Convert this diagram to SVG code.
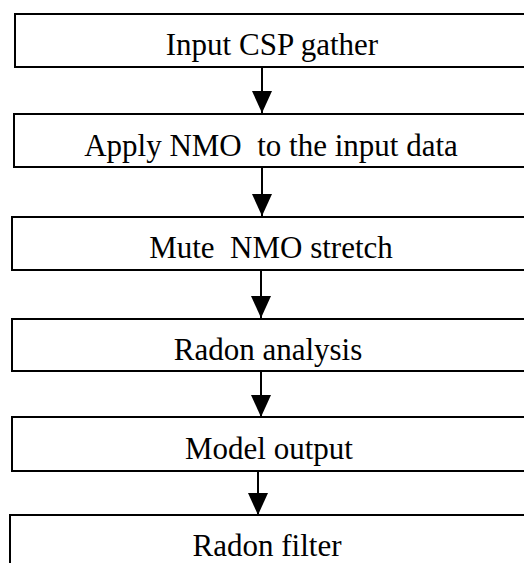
<svg xmlns="http://www.w3.org/2000/svg" width="524" height="563" viewBox="0 0 524 563">
<style>
.box{fill:#fff;stroke:#000;stroke-width:2}
.lbl{font-family:"Liberation Serif","Times New Roman",serif;font-size:31px;fill:#000;text-anchor:middle}
.con{stroke:#000;stroke-width:2;fill:none}
</style>
<defs>
<marker id="ah" markerUnits="userSpaceOnUse" viewBox="0 0 22 20" refX="22" refY="10" markerWidth="22" markerHeight="20" orient="auto">
<path d="M0,0 L22,10 L0,20 Z" fill="#000"/>
</marker>
</defs>
<rect width="524" height="563" fill="#fff"/>
<g id="connectors">
<line class="con" x1="262" y1="67" x2="262" y2="113" marker-end="url(#ah)"/>
<line class="con" x1="262" y1="167" x2="262" y2="216" marker-end="url(#ah)"/>
<line class="con" x1="261" y1="270" x2="261" y2="318" marker-end="url(#ah)"/>
<line class="con" x1="261" y1="371" x2="261" y2="417" marker-end="url(#ah)"/>
<line class="con" x1="258" y1="467" x2="258" y2="515" marker-end="url(#ah)"/>
</g>
<g id="n1"><rect class="box" x="15" y="14" width="530" height="53"/><text class="lbl" x="272" y="55">Input CSP gather</text></g>
<g id="n2"><rect class="box" x="14" y="114" width="530" height="53"/><text class="lbl" x="271" y="156" xml:space="preserve">Apply NMO  to the input data</text></g>
<g id="n3"><rect class="box" x="12" y="217" width="530" height="53"/><text class="lbl" x="271" y="258" xml:space="preserve">Mute  NMO stretch</text></g>
<g id="n4"><rect class="box" x="12" y="319" width="530" height="52"/><text class="lbl" x="268" y="360">Radon analysis</text></g>
<g id="n5"><rect class="box" x="12" y="417" width="530" height="54"/><text class="lbl" x="269" y="459">Model output</text></g>
<g id="n6"><rect class="box" x="10" y="515" width="530" height="60"/><text class="lbl" x="267" y="556">Radon filter</text></g>
</svg>
